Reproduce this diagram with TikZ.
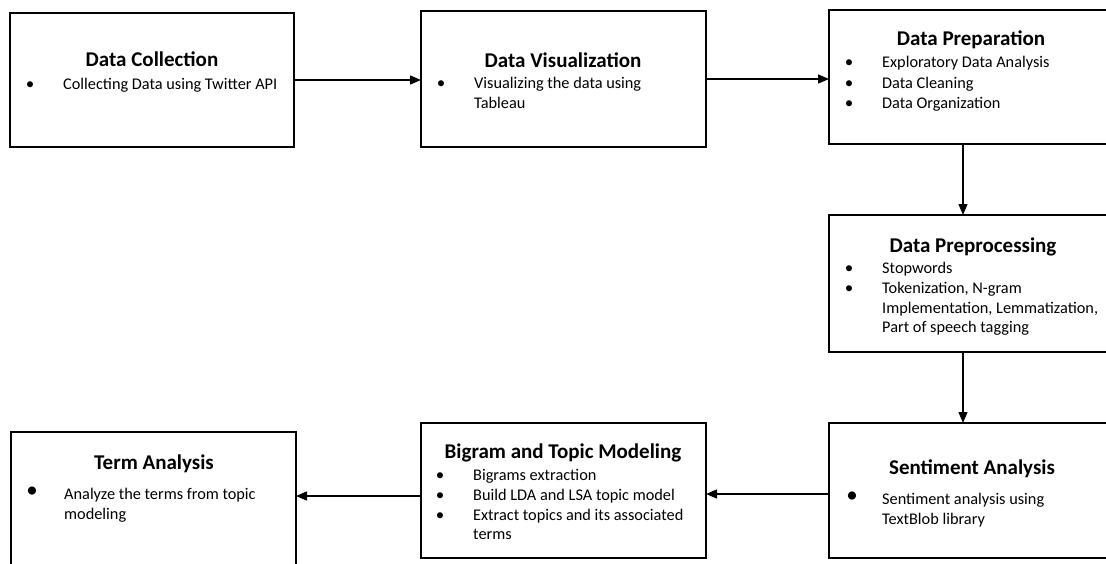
\documentclass[tikz,border=0pt]{standalone}
\usepackage{fontspec}
\setmainfont{Carlito}
\usetikzlibrary{arrows.meta}
\begin{document}
\begin{tikzpicture}[x=1pt,y=-1pt,
  box/.style={draw, line width=1.8pt, rectangle, inner sep=0pt, outer sep=0pt},
  title/.style={font=\fontsize{21}{24}\selectfont\bfseries, anchor=base, inner sep=0pt},
  item/.style={font=\fontsize{16.3}{19}\selectfont, anchor=base west, inner sep=0pt},
  dot/.style={font=\fontsize{17}{19}\selectfont, anchor=base, inner sep=0pt},
  bigdot/.style={font=\fontsize{23}{23}\selectfont, anchor=base, inner sep=0pt},
  arr/.style={line width=1.4pt, -{Triangle[length=11pt,width=9pt]}}]
\clip (0,0) rectangle (1106,563);
\fill[white] (0,0) rectangle (1106,563);

% boxes (centre, size)
\node[box, minimum width=284pt, minimum height=134pt] (b1) at (152,80) {};
\node[box, minimum width=285pt, minimum height=136pt] (b2) at (563.5,79) {};
\node[box, minimum width=284pt, minimum height=134pt] (b3) at (971,77) {};
\node[box, minimum width=284pt, minimum height=137pt] (b4) at (971,283.5) {};
\node[box, minimum width=284pt, minimum height=135pt] (b5) at (971,490.5) {};
\node[box, minimum width=285pt, minimum height=135pt] (b6) at (563.5,490.5) {};
\node[box, minimum width=285pt, minimum height=143pt] (b7) at (153.5,503.5) {};

% Data Collection
\node[title] (t1) at (152,66) {Data Collection};
\node[dot] (d1a) at (30,89) {•};
\node[item] (i1a) at (63,89) {Collecting Data using Twitter API};

% Data Visualization
\node[title] (t2) at (563,67) {Data Visualization};
\node[dot] (d2a) at (441,88) {•};
\node[item] (i2a) at (474,88) {Visualizing the data using};
\node[item] (i2b) at (474,108) {Tableau};

% Data Preparation
\node[title] (t3) at (971,45) {Data Preparation};
\node[dot] (d3a) at (849,67) {•};
\node[item] (i3a) at (882,67) {Exploratory Data Analysis};
\node[dot] (d3b) at (849,88) {•};
\node[item] (i3b) at (882,88) {Data Cleaning};
\node[dot] (d3c) at (849,108) {•};
\node[item] (i3c) at (882,108) {Data Organization};

% Data Preprocessing
\node[title] (t4) at (973,252) {Data Preprocessing};
\node[dot] (d4a) at (849,273) {•};
\node[item] (i4a) at (882,273) {Stopwords};
\node[dot] (d4b) at (849,293) {•};
\node[item] (i4b) at (882,293) {Tokenization, N-gram};
\node[item] (i4c) at (882,313) {Implementation, Lemmatization,};
\node[item] (i4d) at (882,332) {Part of speech tagging};

% Sentiment Analysis
\node[title] (t5) at (972,474) {Sentiment Analysis};
\node[bigdot] (d5a) at (852,502) {•};
\node[item] (i5a) at (882,504) {Sentiment analysis using};
\node[item] (i5b) at (882,524) {TextBlob library};

% Bigram and Topic Modeling
\node[title] (t6) at (563,458) {Bigram and Topic Modeling};
\node[dot] (d6a) at (440,480) {•};
\node[item] (i6a) at (473,480) {Bigrams extraction};
\node[dot] (d6b) at (440,500) {•};
\node[item] (i6b) at (473,500) {Build LDA and LSA topic model};
\node[dot] (d6c) at (440,520) {•};
\node[item] (i6c) at (473,520) {Extract topics and its associated};
\node[item] (i6d) at (473,539) {terms};

% Term Analysis
\node[title] (t7) at (154,469) {Term Analysis};
\node[bigdot] (d7a) at (32,497) {•};
\node[item] (i7a) at (64,499) {Analyze the terms from topic};
\node[item] (i7b) at (64,519) {modeling};

% connectors
\coordinate (v) at (963,0);
\coordinate (h5) at (0,494);
\coordinate (h6) at (0,496);
\draw[arr] (b1.east) -- (b1.east -| b2.west);
\draw[arr] (b2.east) -- (b2.east -| b3.west);
\draw[arr] (v |- b3.south) -- (v |- b4.north);
\draw[arr] (v |- b4.south) -- (v |- b5.north);
\draw[arr] (h5 -| b5.west) -- (h5 -| b6.east);
\draw[arr] (h6 -| b6.west) -- (h6 -| b7.east);
\end{tikzpicture}
\end{document}
